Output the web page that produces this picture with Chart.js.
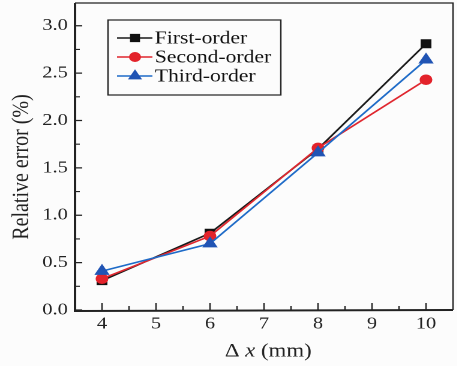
<!DOCTYPE html>
<html><head><meta charset="utf-8">
<script src="https://cdn.jsdelivr.net/npm/chart.js@4/dist/chart.umd.min.js"></script>
<style>
html,body{margin:0;padding:0;background:#fcfcfc;overflow:hidden;}
#wrap{position:absolute;left:0;top:0;width:381px;height:366px;transform:scaleX(1.2);transform-origin:0 0;}
</style></head><body>
<div id="wrap"><canvas id="c" width="381" height="366"></canvas></div>
<script>
const xValues = [4, 6, 8, 10];
const firstOrder = [0.31, 0.81, 1.70, 2.81];
const secondOrder = [0.33, 0.78, 1.71, 2.43];
const thirdOrder = [0.41, 0.70, 1.66, 2.64];
const seriesNames = ['First-order', 'Second-order', 'Third-order'];
const xTicks = [4, 5, 6, 7, 8, 9, 10];
const yTicks = [0, 0.5, 1.0, 1.5, 2.0, 2.5, 3.0];
const xTitleParts = ['Δ ', 'x', ' (mm)'];
const yTitle = 'Relative error (%)';

const FONT = "'Liberation Serif', 'Times New Roman', serif";
const INK = '#222';

function pts(vals){ return xValues.map((x,i)=>({x:x, y:vals[i]})); }

function drawMarker(ctx, style, r, x, y){
  ctx.beginPath();
  if (style === 'rect') {
    const s = Math.SQRT1_2 * r;
    ctx.rect(x - s, y - s, 2*s, 2*s);
  } else if (style === 'triangle') {
    const a = -Math.PI/2;
    for (let k=0;k<3;k++){
      const ang = a + k*2*Math.PI/3;
      const px = x + Math.cos(ang)*r, py = y + Math.sin(ang)*r;
      if (k===0) ctx.moveTo(px,py); else ctx.lineTo(px,py);
    }
    ctx.closePath();
  } else {
    ctx.arc(x, y, r, 0, Math.PI*2);
  }
  ctx.fill();
  ctx.stroke();
}

const framePlugin = {
  id: 'frame',
  afterDatasetsDraw(chart){
    const {ctx, chartArea:a, scales:{x, y}} = chart;
    ctx.save();
    ctx.strokeStyle = INK;
    ctx.lineWidth = 1.2;
    ctx.beginPath();
    xTicks.forEach(v=>{ const p = x.getPixelForValue(v); ctx.moveTo(p, a.bottom); ctx.lineTo(p, a.bottom - 7); });
    for (let i=0;i<xTicks.length-1;i++){ const p = x.getPixelForValue((xTicks[i]+xTicks[i+1])/2); ctx.moveTo(p, a.bottom); ctx.lineTo(p, a.bottom - 4); }
    yTicks.forEach(v=>{ const p = y.getPixelForValue(v); ctx.moveTo(a.left, p); ctx.lineTo(a.left + 6, p); });
    for (let i=0;i<yTicks.length-1;i++){ const p = y.getPixelForValue((yTicks[i]+yTicks[i+1])/2); ctx.moveTo(a.left, p); ctx.lineTo(a.left + 4, p); }
    ctx.stroke();
    ctx.lineWidth = 1.2;
    ctx.beginPath();
    ctx.moveTo(a.left, a.top); ctx.lineTo(a.right, a.top); ctx.lineTo(a.right, a.bottom);
    ctx.stroke();
    ctx.lineWidth = 2;
    ctx.beginPath();
    ctx.moveTo(a.left, a.top); ctx.lineTo(a.left, a.bottom + 1); ctx.lineTo(a.right, a.bottom);
    ctx.stroke();
    ctx.restore();
  }
};

const titlePlugin = {
  id: 'axisTitles',
  afterDraw(chart){
    const {ctx} = chart;
    ctx.save();
    ctx.fillStyle = INK;
    // y title
    ctx.save();
    ctx.translate(18, 167);
    ctx.rotate(-Math.PI/2);
    ctx.font = "20px " + FONT;
    ctx.textAlign = 'center';
    ctx.textBaseline = 'middle';
    ctx.fillText(yTitle, 0, 0);
    ctx.restore();
    // x title with italic x
    const fonts = ["19px " + FONT, "italic 19px " + FONT, "19px " + FONT];
    let total = 0;
    const widths = xTitleParts.map((t, i) => { ctx.font = fonts[i]; const w = ctx.measureText(t).width; total += w; return w; });
    let sx = 223.5 - total / 2;
    ctx.textAlign = 'left';
    ctx.textBaseline = 'alphabetic';
    xTitleParts.forEach((t, i) => { ctx.font = fonts[i]; ctx.fillText(t, sx, 356.5); sx += widths[i]; });
    ctx.restore();
  }
};

const legendPlugin = {
  id: 'boxLegend',
  afterDraw(chart){
    const {ctx} = chart;
    ctx.save();
    const bx = 90, by = 20, bw = 144, bh = 75;
    ctx.fillStyle = '#fcfcfc';
    ctx.fillRect(bx, by, bw, bh);
    ctx.strokeStyle = INK; ctx.lineWidth = 1.2;
    ctx.strokeRect(bx, by, bw, bh);
    chart.data.datasets.forEach((ds, i)=>{
      const cy = 38 + i*19;
      ctx.strokeStyle = ds.borderColor; ctx.lineWidth = ds.borderWidth;
      ctx.beginPath(); ctx.moveTo(97.5, cy); ctx.lineTo(127, cy); ctx.stroke();
      ctx.fillStyle = ds.pointBackgroundColor; ctx.strokeStyle = ds.pointBorderColor; ctx.lineWidth = 1;
      drawMarker(ctx, ds.pointStyle, ds.pointRadius, 112.5, cy);
      ctx.fillStyle = '#111';
      ctx.font = "18px " + FONT;
      ctx.textBaseline = 'middle'; ctx.textAlign = 'left';
      ctx.fillText(ds.label, 129, cy + 1);
    });
    ctx.restore();
  }
};

const bgPlugin = {
  id: 'bg',
  beforeDraw(chart){ const c = chart.ctx; c.save(); c.fillStyle = '#fcfcfc'; c.fillRect(0,0,chart.width,chart.height); c.restore(); }
};

new Chart(document.getElementById('c'), {
  type: 'line',
  data: {
    datasets: [
      {label: seriesNames[0], data: pts(firstOrder), borderColor: '#1a1a1a', pointBackgroundColor: '#111', pointBorderColor: '#111', pointStyle: 'rect', pointRadius: 5.2, borderWidth: 1.6, order: 2},
      {label: seriesNames[1], data: pts(secondOrder), borderColor: '#e0262e', pointBackgroundColor: '#e3232b', pointBorderColor: '#e3232b', pointStyle: 'circle', pointRadius: 4.5, borderWidth: 1.6, order: 1},
      {label: seriesNames[2], data: pts(thirdOrder), borderColor: '#1e6bc8', pointBackgroundColor: '#2154b4', pointBorderColor: '#2154b4', pointStyle: 'triangle', pointRadius: 5.8, borderWidth: 1.6, order: 0}
    ]
  },
  options: {
    responsive: false,
    devicePixelRatio: 2,
    animation: false,
    layout: {autoPadding: false, padding: {left: 0, right: 3.5, top: 3, bottom: 0}},
    plugins: {legend: {display: false}, tooltip: {enabled: false}},
    elements: {line: {tension: 0}, point: {borderWidth: 1, hoverRadius: 5}},
    scales: {
      x: {
        type: 'linear', min: 3.5, max: 10.5,
        afterBuildTicks: s => { s.ticks = xTicks.map(v=>({value: v})); },
        afterFit: s => { s.height = 56; s.paddingLeft = 0; s.paddingRight = 0; },
        grid: {display: false, drawTicks: false},
        border: {display: false},
        ticks: {font: {family: FONT, size: 17}, color: INK, padding: 4, callback: v => String(v), maxRotation: 0, autoSkip: false},
        title: {display: false, text: xTitleParts.join('')}
      },
      y: {
        min: 0, max: 3.24,
        afterBuildTicks: s => { s.ticks = yTicks.map(v=>({value: v})); },
        afterFit: s => { s.width = 62.5; s.paddingTop = 0; s.paddingBottom = 0; },
        grid: {display: false, drawTicks: false},
        border: {display: false},
        ticks: {font: {family: FONT, size: 17}, color: INK, padding: 6, callback: v => Number(v).toFixed(1), autoSkip: false},
        title: {display: false, text: yTitle}
      }
    }
  },
  plugins: [bgPlugin, framePlugin, legendPlugin, titlePlugin]
});
</script>
</body></html>
